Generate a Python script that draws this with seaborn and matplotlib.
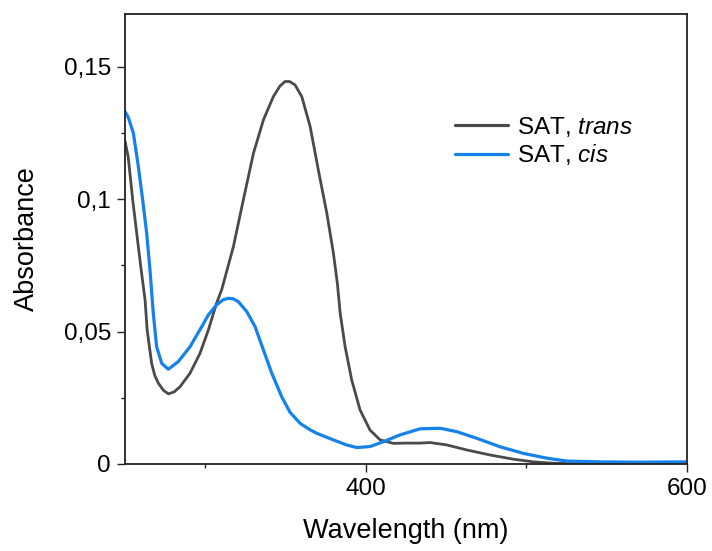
import numpy as np
import pandas as pd
import matplotlib
matplotlib.use("Agg")
import matplotlib.pyplot as plt
from matplotlib.ticker import FuncFormatter, MultipleLocator
import seaborn as sns

# ---- data ----
trans_nm = [250, 252, 254.8, 257.3, 259.8, 262.5, 263.8, 266.6, 268.5, 270.8, 274, 277, 280.5,
            284.3, 290.5, 296.7, 301.9, 307, 310.2, 317.5, 323.7, 330, 336.2, 342.4, 346.5,
            349.7, 352.5, 355.9, 360.1, 365.3, 370.4, 375.7, 379.8, 382.3, 384,
            387.1, 391.2, 396.4, 402.6, 408.9, 417.2, 425, 433.8, 440, 450.4, 462.9,
            477.4, 492, 504.4, 516.6, 530, 560, 600]
trans_abs = [0.122, 0.116, 0.0998, 0.0872, 0.0746, 0.062, 0.0506, 0.038, 0.0335, 0.0305,
             0.0278, 0.0265, 0.0272, 0.0292, 0.0343, 0.0418, 0.0506, 0.0607, 0.0658, 0.0821,
             0.0998, 0.1174, 0.130, 0.1388, 0.1428, 0.1445, 0.1445, 0.1432, 0.1388, 0.1275,
             0.1111, 0.0947, 0.0796, 0.0680, 0.057, 0.0443, 0.0317, 0.0204, 0.0128, 0.0091,
             0.0078, 0.0079, 0.0079, 0.0081, 0.0072, 0.0053, 0.0034, 0.0018, 0.0008,
             0.0003, 0.0001, 0.0, 0.0]

cis_nm = [250, 252, 255.2, 258.3, 261, 263.5, 265.6, 267.6, 269.7, 272.9, 277, 283.2,
          290.5, 297.8, 301.9, 307, 311, 314.4, 317.5, 320.6, 325.8, 331, 336.2, 341.4,
          347.6, 352.8, 359, 365, 369.4, 379.8, 388, 394.4, 402.6, 410.9, 421.3, 433.8,
          446.3, 456.7, 469.1, 483.6, 498.2, 512.7, 525.2, 546, 567, 600]
cis_abs = [0.1331, 0.131, 0.125, 0.1124, 0.0998, 0.0872, 0.0730, 0.057, 0.0443, 0.038,
           0.0358, 0.0387, 0.0443, 0.0519, 0.0563, 0.0601, 0.0620, 0.0626, 0.0624,
           0.0613, 0.0576, 0.0519, 0.0431, 0.0343, 0.0254, 0.0195, 0.0154, 0.0130,
           0.0116, 0.0091, 0.0072, 0.0062, 0.0066, 0.0084, 0.011, 0.0133, 0.0135,
           0.0122, 0.0097, 0.0065, 0.004, 0.0022, 0.0011, 0.0008, 0.0007, 0.0008]

labels = [r"SAT, $\mathit{trans}$", r"SAT, $\mathit{cis}$"]
colors = ["#4a4a4a", "#1482ea"]

sns.set_style("ticks")
plt.rcParams["font.family"] = ["Liberation Sans", "DejaVu Sans"]
plt.rcParams["mathtext.fontset"] = "custom"
plt.rcParams["mathtext.rm"] = "Liberation Sans"
plt.rcParams["mathtext.it"] = "Liberation Sans:italic"
plt.rcParams["text.color"] = "black"
plt.rcParams["axes.labelcolor"] = "black"

fig = plt.figure(figsize=(7.12, 5.51), dpi=100)
ax = fig.add_axes([125 / 712, 87 / 551, 562 / 712, 450 / 551])

df_t = pd.DataFrame({"nm": trans_nm, "abs": trans_abs})
df_c = pd.DataFrame({"nm": cis_nm, "abs": cis_abs})
sns.lineplot(data=df_t, x="nm", y="abs", ax=ax, color=colors[0], lw=2.0,
             label=labels[0], estimator=None, sort=False)
sns.lineplot(data=df_c, x="nm", y="abs", ax=ax, color=colors[1], lw=2.3,
             label=labels[1], estimator=None, sort=False)
for ln in ax.lines:
    ln.set_solid_joinstyle("round")

ax.set_xlim(250, 600)
ax.set_ylim(0, 0.17)
ax.xaxis.set_major_locator(MultipleLocator(200))
ax.xaxis.set_minor_locator(MultipleLocator(100))
ax.yaxis.set_major_locator(MultipleLocator(0.05))
ax.yaxis.set_minor_locator(MultipleLocator(0.025))
ax.yaxis.set_major_formatter(FuncFormatter(lambda v, p: ("%g" % round(v, 4)).replace(".", ",")))

for s in ax.spines.values():
    s.set_linewidth(1.3)
    s.set_color("#222222")
ax.tick_params(which="major", direction="out", length=6, width=1.0, labelsize=17.5,
               pad=4, colors="#222222", labelcolor="black")
ax.tick_params(which="minor", direction="out", length=3, width=1.0, colors="#222222")

ax.set_xlabel("Wavelength (nm)", fontsize=19.5, labelpad=13)
ax.set_ylabel("Absorbance", fontsize=19.5, labelpad=17)

leg = ax.legend(loc="center left", bbox_to_anchor=(0.587, 0.718), frameon=False,
                fontsize=17.5, handlelength=2.2, handletextpad=0.35,
                labelspacing=0.15, borderpad=0, borderaxespad=0)
for h in leg.get_lines():
    h.set_linewidth(2.3)

fig.savefig("out.png", dpi=100)
